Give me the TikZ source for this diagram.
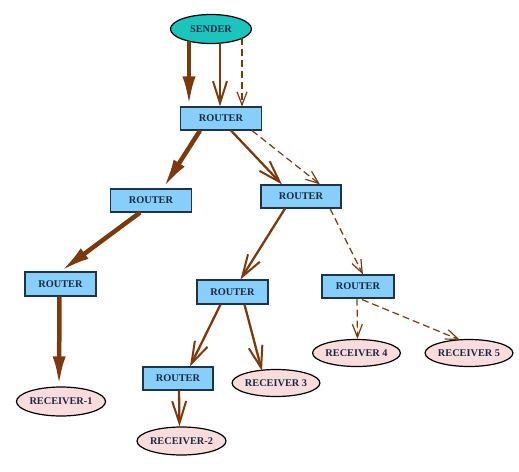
\documentclass[tikz,border=0pt]{standalone}
\usepackage{fontspec}
\setmainfont{Liberation Serif}
\usetikzlibrary{arrows.meta,shapes.geometric}
\definecolor{brn}{HTML}{7B3A0E}
\definecolor{rfill}{HTML}{87CEFA}
\definecolor{sfill}{HTML}{1CC4BE}
\definecolor{pfill}{HTML}{FBDCDC}
\definecolor{txt}{HTML}{1A2A40}
\definecolor{rline}{HTML}{1E3548}
\begin{document}
\begin{tikzpicture}[x=1pt,y=-1pt,
  lbl/.style={font=\bfseries\fontsize{10.3}{12}\selectfont,text=txt},
  router/.style={lbl,draw=rline,line width=1.1pt,fill=rfill,minimum width=78pt,minimum height=23pt,inner sep=0pt},
  recv/.style={lbl,ellipse,draw=black,line width=1.2pt,fill=pfill,minimum width=78pt,minimum height=27pt,inner sep=0pt},
  thickarr/.style={draw=brn,line width=4.5pt,-{Latex[length=30pt,width=13pt]}},
  medarr/.style={draw=brn,line width=2.3pt,-{Straight Barb[length=22pt,width=14pt,line width=2pt]}},
  dasharr/.style={draw=brn,line width=1.2pt,dash pattern=on 7pt off 4pt,-{Straight Barb[length=13pt,width=10pt,line width=1.2pt]}}
]
\path[use as bounding box] (0,0) rectangle (519,471);
\node[lbl,ellipse,draw=black,line width=1.2pt,fill=sfill,minimum width=81pt,minimum height=29pt,inner sep=0pt] (s) at (211,29) {SENDER};
\node[router,minimum width=81pt] (r1) at (221,118.5) {ROUTER};
\node[router,minimum width=81pt] (r2) at (151,200.5) {ROUTER};
\node[router,minimum width=80pt] (r3) at (301,196.5) {ROUTER};
\node[router,minimum width=71pt,minimum height=24pt] (r4) at (60.5,284) {ROUTER};
\node[router,minimum width=71pt,minimum height=24pt] (r5) at (232.5,292) {ROUTER};
\node[router,minimum width=72pt] (r6) at (358,286.5) {ROUTER};
\node[router,minimum width=70pt] (r7) at (178,378.5) {ROUTER};
\node[recv,minimum height=29pt] (c1) at (61,401.5) {RECEIVER-1};
\node[recv] (c3) at (276,383) {RECEIVER 3};
\node[recv,minimum height=28pt] (c2) at (181.5,441) {RECEIVER-2};
\node[recv] (c4) at (356.5,353) {RECEIVER 4};
\node[recv] (c5) at (469,353) {RECEIVER 5};
% sender to router
\draw[thickarr] ([shift={(-22,12)}]s.center) -- ([shift={(-32,0)}]r1.north);
\draw[medarr] ([shift={(9,14)}]s.center) -- ([shift={(-1,0)}]r1.north);
\draw[dasharr] ([shift={(31,9)}]s.center) -- ([shift={(21,0)}]r1.north);
% router 1
\draw[thickarr] ([shift={(-21,0)}]r1.south) -- ([shift={(12,0)}]r2.north);
\draw[medarr] ([shift={(10,0)}]r1.south) -- ([shift={(-19,0)}]r3.north);
\draw[dasharr] ([shift={(31,0)}]r1.south) -- ([shift={(19,0)}]r3.north);
% lower
\draw[thickarr] ([shift={(-11,0)}]r2.south) -- ([shift={(0,0)}]r4.north);
\draw[medarr] ([shift={(-16,0)}]r3.south) -- ([shift={(8,0)}]r5.north);
\draw[dasharr] ([shift={(29,0)}]r3.south) -- ([shift={(5,0)}]r6.north);
\draw[thickarr] ([shift={(-1,0)}]r4.south) -- ([shift={(-2,0)}]c1.north);
\draw[medarr] ([shift={(-12,0)}]r5.south) -- ([shift={(12,0)}]r7.north);
\draw[medarr] ([shift={(12,0)}]r5.south) -- ([shift={(-14,-12)}]c3.center);
\draw[medarr] ([shift={(1,0)}]r7.south) -- ([shift={(-2,0)}]c2.north);
\draw[dasharr] ([shift={(-1,0)}]r6.south) -- ([shift={(1,0)}]c4.north);
\draw[dasharr] ([shift={(4,1)}]r6.south) -- ([shift={(-9,-13)}]c5.center);
\end{tikzpicture}
\end{document}
